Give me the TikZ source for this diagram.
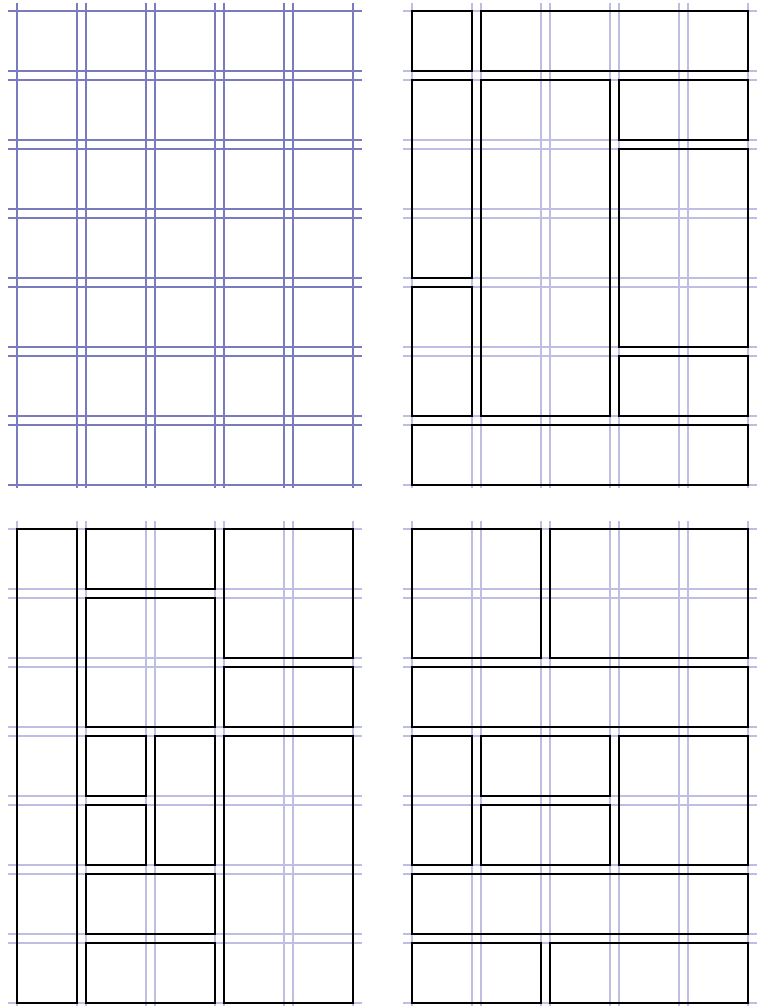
\documentclass[tikz,border=0pt]{standalone}
\definecolor{gdark}{RGB}{122,122,190}
\definecolor{glight}{RGB}{190,190,228}
\tikzset{
  gridA/.style={draw=gdark, line width=1.9pt},
  gridB/.style={draw=glight, line width=1.9pt},
  cellbox/.style={draw=black, line width=2pt},
}
\newcommand\panelgrid[3]{%
  \foreach \i in {0,...,4} {
    \draw[#3] ({#1+16.7+69*\i},{#2+2.7}) -- ({#1+16.7+69*\i},{#2+488.3});
    \draw[#3] ({#1+77.1+69*\i},{#2+2.7}) -- ({#1+77.1+69*\i},{#2+488.3});
  }
  \foreach \j in {0,...,6} {
    \draw[#3] ({#1+8},{#2+10.7+69*\j}) -- ({#1+362},{#2+10.7+69*\j});
    \draw[#3] ({#1+8},{#2+71.1+69*\j}) -- ({#1+362},{#2+71.1+69*\j});
  }
}
\newcommand\gbox[6]{%
  \draw[cellbox] ({#1+16.7+69*#3},{#2+10.7+69*#4}) rectangle ({#1+77.1+69*#5},{#2+71.1+69*#6});
}
\begin{document}
\begin{tikzpicture}[x=1pt,y=-1pt]
\useasboundingbox (0,0) rectangle (758,1006);
\begin{scope}
\clip (0,0) rectangle (758,1006);
% top-left: plain grid
\panelgrid{0}{0}{gridA}
% top-right
\panelgrid{395}{0}{gridB}
\gbox{395}{0}{0}{0}{0}{0}
\gbox{395}{0}{1}{0}{4}{0}
\gbox{395}{0}{0}{1}{0}{3}
\gbox{395}{0}{0}{4}{0}{5}
\gbox{395}{0}{1}{1}{2}{5}
\gbox{395}{0}{3}{1}{4}{1}
\gbox{395}{0}{3}{2}{4}{4}
\gbox{395}{0}{3}{5}{4}{5}
\gbox{395}{0}{0}{6}{4}{6}
% bottom-left
\panelgrid{0}{518.3}{gridB}
\gbox{0}{518.3}{0}{0}{0}{6}
\gbox{0}{518.3}{1}{0}{2}{0}
\gbox{0}{518.3}{1}{1}{2}{2}
\gbox{0}{518.3}{3}{0}{4}{1}
\gbox{0}{518.3}{3}{2}{4}{2}
\gbox{0}{518.3}{1}{3}{1}{3}
\gbox{0}{518.3}{1}{4}{1}{4}
\gbox{0}{518.3}{2}{3}{2}{4}
\gbox{0}{518.3}{1}{5}{2}{5}
\gbox{0}{518.3}{1}{6}{2}{6}
\gbox{0}{518.3}{3}{3}{4}{6}
% bottom-right
\panelgrid{395}{518.3}{gridB}
\gbox{395}{518.3}{0}{0}{1}{1}
\gbox{395}{518.3}{2}{0}{4}{1}
\gbox{395}{518.3}{0}{2}{4}{2}
\gbox{395}{518.3}{0}{3}{0}{4}
\gbox{395}{518.3}{1}{3}{2}{3}
\gbox{395}{518.3}{1}{4}{2}{4}
\gbox{395}{518.3}{3}{3}{4}{4}
\gbox{395}{518.3}{0}{5}{4}{5}
\gbox{395}{518.3}{0}{6}{1}{6}
\gbox{395}{518.3}{2}{6}{4}{6}
\end{scope}
\end{tikzpicture}
\end{document}
